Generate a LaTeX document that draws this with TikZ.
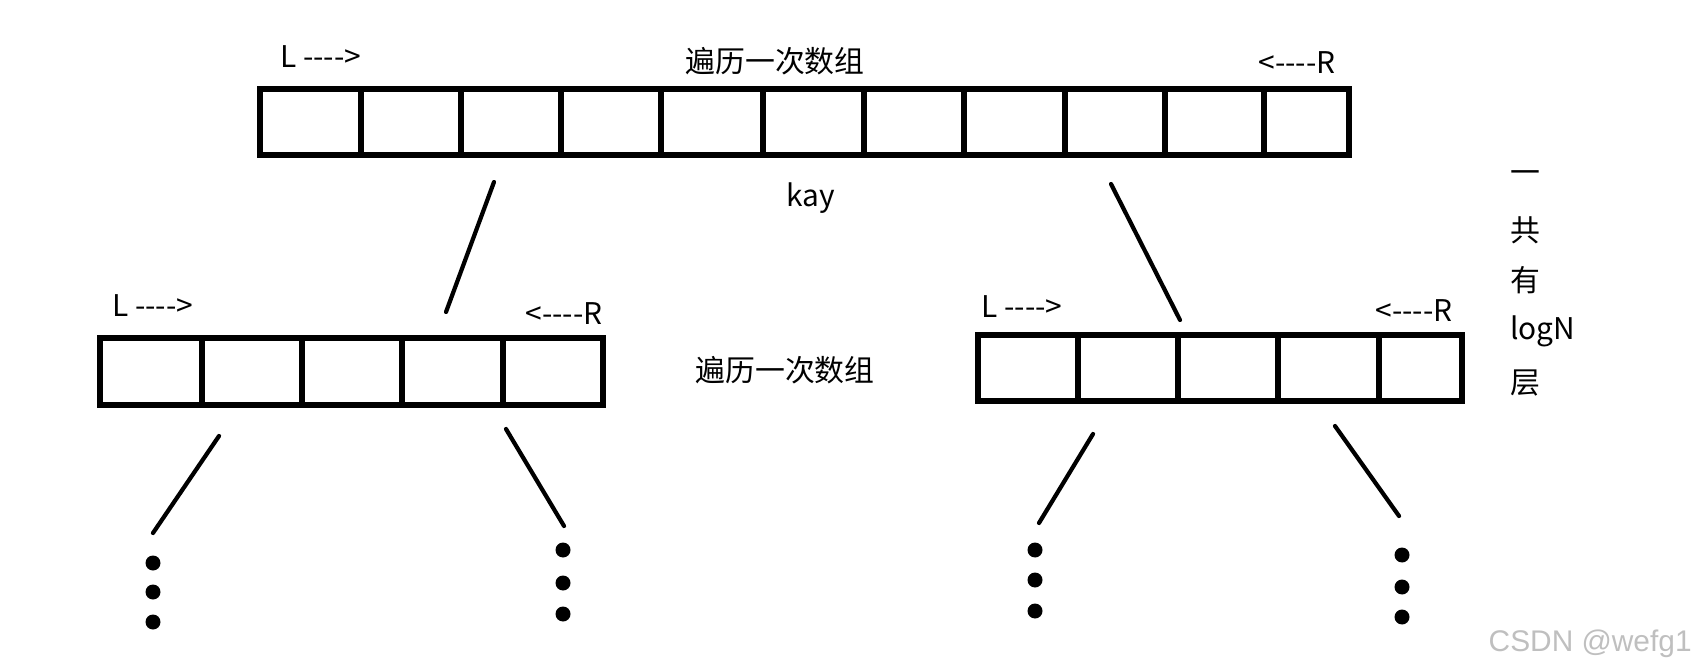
\documentclass[tikz,border=0pt]{standalone}
\usepackage{fontspec}
\newfontfamily\cjk{Noto Sans CJK SC}
\newfontfamily\wmfont{Liberation Sans}
\usetikzlibrary{positioning,fit}

\begin{document}
\begin{tikzpicture}[x=0.02cm, y=-0.02cm,
    every node/.style={inner sep=0pt, font={\cjk\fontsize{17}{20}\selectfont}},
    cell/.style={draw, line width=3.1pt},
    link/.style={line width=2.4pt, line cap=round},
    dot/.style={circle, fill, inner sep=0pt, minimum size=0.3cm}]
  \useasboundingbox (0,0) rectangle (1700,672);

  % top array
  \foreach \a/\b [count=\i] in {260/361,361/461,461/561,561/661,661/763,763/864,
      864/964,964/1065,1065/1165,1165/1264,1264/1349}
    \node[cell, fit={(\a,89) (\b,155)}] (top\i) {};
  \node[anchor=west] (topL) at (280,57) {L ---->};
  \node[anchor=east] (topR) at (1336,63) {<----R};
  \node (topcap) at (775,61) {遍历一次数组};
  \node (key) at (811,198) {kay};

  % left array
  \foreach \a/\b [count=\i] in {100/202,202/302,302/402,402/503,503/603}
    \node[cell, fit={(\a,338) (\b,405)}] (left\i) {};
  \node[anchor=west] (leftL) at (112,306) {L ---->};
  \node[anchor=east] (leftR) at (603,314) {<----R};
  \node (midcap) at (785,370) {遍历一次数组};

  % right array
  \foreach \a/\b [count=\i] in {978/1078,1078/1178,1178/1278,1278/1379,1379/1462}
    \node[cell, fit={(\a,335) (\b,401)}] (right\i) {};
  \node[anchor=west] (rightL) at (981,307) {L ---->};
  \node[anchor=east] (rightR) at (1453,311) {<----R};

  % depth note
  \node[anchor=west] (n1) at (1510,177) {一};
  \node[anchor=west] (n2) at (1510,230) {共};
  \node[anchor=west] (n3) at (1510,280) {有};
  \node[anchor=west] (n4) at (1510,331) {logN};
  \node[anchor=west] (n5) at (1510,383) {层};

  % connectors
  \foreach \n/\p/\q in {tl/{494,182}/{446,312}, tr/{1111,184}/{1180,320},
      ll/{219,436}/{153,533}, lr/{506,429}/{564,526},
      rl/{1093,434}/{1039,523}, rr/{1335,426}/{1399,516}} {
    \coordinate (\n a) at (\p);
    \coordinate (\n b) at (\q);
    \draw[link] (\n a) -- (\n b);
  }

  % dots
  \foreach \n/\x/\y in {ll1/153/563, ll2/153/592, ll3/153/622,
      lr1/563/550, lr2/563/583, lr3/563/614,
      rl1/1035/550, rl2/1035/580, rl3/1035/611,
      rr1/1402/555, rr2/1402/587, rr3/1402/617}
    \node[dot] (d\n) at (\x,\y) {};

  \node[anchor=east, font={\wmfont\fontsize{17}{20}\selectfont}, text=black!25] (mark) at (1692,644) {CSDN @wefg1};
\end{tikzpicture}
\end{document}
